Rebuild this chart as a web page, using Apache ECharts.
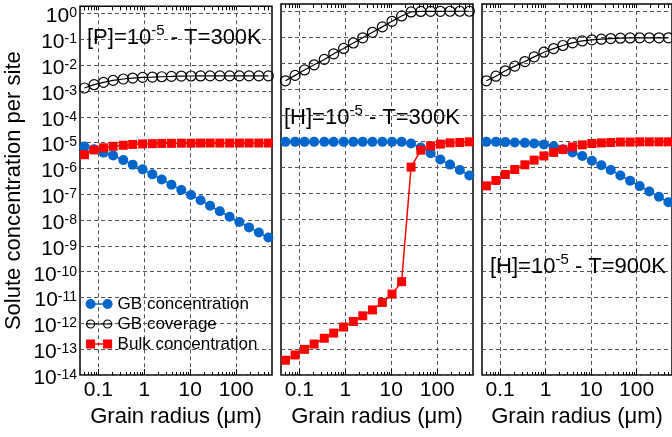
<!DOCTYPE html>
<html>
<head>
<meta charset="utf-8">
<script src="https://cdn.jsdelivr.net/npm/echarts@6/dist/echarts.min.js"></script>
<style>
html, body { margin: 0; padding: 0; background: #fff; }
#chart { width: 672px; height: 437px; }
</style>
</head>
<body>
<div id="chart"></div>
<script>
// grain radius (um), same for all three panels
var radius = [0.05, 0.081, 0.13, 0.21, 0.35, 0.56, 0.92, 1.5, 2.4, 3.9, 6.4, 10.4, 16.8, 27, 44, 72, 117, 190, 310, 500];

// panel 1 : [P]=1e-5, T=300K
var pGbConc = [7.0e-6, 5.5e-6, 4.1e-6, 3.2e-6, 2.1e-6, 1.4e-6, 9.2e-7, 5.9e-7, 3.7e-7, 2.35e-7, 1.47e-7, 9.4e-8, 5.9e-8, 3.6e-8, 2.2e-8, 1.34e-8, 8.4e-9, 5.2e-9, 3.3e-9, 2.1e-9];
var pGbCov = [1.3e-3, 1.75e-3, 2.15e-3, 2.57e-3, 2.9e-3, 3.16e-3, 3.36e-3, 3.45e-3, 3.56e-3, 3.66e-3, 3.78e-3, 3.8e-3, 3.82e-3, 3.83e-3, 3.84e-3, 3.85e-3, 3.85e-3, 3.85e-3, 3.85e-3, 3.85e-3];
var pBulk = [3.4e-6, 5.2e-6, 6.3e-6, 7.2e-6, 7.9e-6, 8.5e-6, 8.9e-6, 9.1e-6, 9.3e-6, 9.4e-6, 9.5e-6, 9.5e-6, 9.6e-6, 9.6e-6, 9.6e-6, 9.6e-6, 9.6e-6, 9.6e-6, 9.6e-6, 9.6e-6];

// panel 2 : [H]=1e-5, T=300K
var h3GbConc = [9.4e-6, 9.4e-6, 9.4e-6, 9.4e-6, 9.4e-6, 9.4e-6, 9.4e-6, 9.4e-6, 9.4e-6, 9.4e-6, 9.4e-6, 9.4e-6, 9.4e-6, 8.1e-6, 5.7e-6, 3.4e-6, 1.97e-6, 1.25e-6, 7.7e-7, 4.8e-7];
var h3GbCov = [2.1e-3, 3.4e-3, 5.5e-3, 8.7e-3, 1.4e-2, 2.3e-2, 3.7e-2, 6.0e-2, 9.5e-2, 0.155, 0.25, 0.41, 0.66, 0.94, 0.98, 0.99, 0.995, 1, 1, 1];
var h3Bulk = [3.7e-14, 5.9e-14, 9.7e-14, 1.56e-13, 2.6e-13, 4.1e-13, 7.0e-13, 1.15e-12, 1.9e-12, 3.2e-12, 6.2e-12, 1.3e-11, 3.9e-11, 1.0e-6, 4.5e-6, 6.6e-6, 7.7e-6, 8.6e-6, 8.9e-6, 9.4e-6];

// panel 3 : [H]=1e-5, T=900K
var h9GbConc = [9.4e-6, 9.4e-6, 9.2e-6, 8.9e-6, 8.6e-6, 8.1e-6, 7.4e-6, 6.4e-6, 4.9e-6, 3.7e-6, 2.7e-6, 1.75e-6, 1.19e-6, 7.7e-7, 4.8e-7, 3.0e-7, 1.86e-7, 1.16e-7, 7.2e-8, 4.5e-8];
var h9GbCov = [2.1e-3, 3.16e-3, 5.1e-3, 7.7e-3, 1.16e-2, 1.75e-2, 2.65e-2, 3.66e-2, 4.8e-2, 6.05e-2, 7.2e-2, 7.9e-2, 8.4e-2, 8.9e-2, 9.2e-2, 9.4e-2, 9.5e-2, 9.5e-2, 9.5e-2, 9.5e-2];
var h9Bulk = [1.9e-7, 3.07e-7, 5.2e-7, 8.1e-7, 1.23e-6, 1.86e-6, 2.7e-6, 3.7e-6, 4.8e-6, 6.05e-6, 7.2e-6, 8.1e-6, 8.6e-6, 8.9e-6, 9.2e-6, 9.2e-6, 9.4e-6, 9.4e-6, 9.4e-6, 9.4e-6];

var seriesNames = ['GB concentration', 'GB coverage', 'Bulk concentration'];
var panelTexts = [['[P]=10', '-5', ' - T=300K'], ['[H]=10', '-5', ' - T=300K'], ['[H]=10', '-5', ' - T=900K']];
var xTickLabels = [0.1, 1, 10, 100];
var yTickExps = [-14, -13, -12, -11, -10, -9, -8, -7, -6, -5, -4, -3, -2, -1, 0];

var panelData = [
    [pGbConc, pGbCov, pBulk],
    [h3GbConc, h3GbCov, h3Bulk],
    [h9GbConc, h9GbCov, h9Bulk]
];

var FONT = '"Liberation Sans", Arial, Helvetica, sans-serif';
var BLUE = '#0066cc', RED = '#ff0000';
var X_MIN = 0.04, X_MAX = 600, Y_MIN = 1e-14, Y_MAX = 1.9;
var lefts = [80, 281, 482];
var textPos = [[87, 20], [284, 100], [490, 249]];

// gnuplot-like legend keys: marker - line - marker
var keyDots = 'path://M0,5A5,5,0,1,1,10,5A5,5,0,1,1,0,5ZM17,5A5,5,0,1,1,27,5A5,5,0,1,1,17,5ZM9,4.2L18,4.2L18,5.8L9,5.8Z';
var keyRings = 'path://M1,5A4,4,0,1,1,9,5A4,4,0,1,1,1,5ZM18,5A4,4,0,1,1,26,5A4,4,0,1,1,18,5ZM0,5L27,5M0,0.5M27,9.5';
var keySquares = 'path://M0.5,0.5L9.5,0.5L9.5,9.5L0.5,9.5ZM17.5,0.5L26.5,0.5L26.5,9.5L17.5,9.5ZM9,4.2L18,4.2L18,5.8L9,5.8ZM0,0M27,10';

var yTicks = yTickExps.map(function (e) { return Math.pow(10, e); });
// labels split on two stacked axes so the end labels are never dropped as "overlapping"
var yLabelsEven = yTicks.filter(function (v, i) { return i % 2 === 0; });
var yLabelsOdd = yTicks.filter(function (v, i) { return i % 2 === 1; });

var xMinor = [];
[0.01, 0.1, 1, 10, 100].forEach(function (d) {
    for (var k = 2; k <= 9; k++) {
        var v = +(k * d).toPrecision(3);
        if (v > X_MIN && v < X_MAX) xMinor.push(v);
    }
});
var xAllTicks = xTickLabels.concat(xMinor);

function pairs(ys) {
    return radius.map(function (r, i) { return [r, ys[i]]; });
}

var dashed = { type: [4, 3], color: '#555', width: 1 };
var yLabelStyle = {
    margin: 3, showMinLabel: true, showMaxLabel: true,
    formatter: function (v) { return '{b|10}{s|' + Math.round(Math.log10(v)) + '}'; },
    rich: {
        b: { fontSize: 21, fontFamily: FONT, color: '#000', lineHeight: 14, padding: [6, 0, 0, 0] },
        s: { fontSize: 14, fontFamily: FONT, color: '#000', lineHeight: 8, verticalAlign: 'top' }
    }
};
var grid = [], xAxis = [], yAxis = [], series = [], graphic = [];

lefts.forEach(function (left, p) {
    grid.push({ left: left, top: 4, width: 192, height: 371, show: true, borderColor: '#000', borderWidth: 1.5 });

    // bottom axis: labels, major ticks, vertical grid
    var xIdx = xAxis.length;
    xAxis.push({
        type: 'log', gridIndex: p, min: X_MIN, max: X_MAX, position: 'bottom',
        axisLine: { show: false },
        axisTick: { inside: true, length: 6, customValues: xTickLabels, lineStyle: { color: '#000' } },
        axisLabel: { customValues: xTickLabels, color: '#000', fontSize: 21, fontFamily: FONT, margin: 5,
            formatter: function (v) { return String(v); } },
        splitLine: { show: true, lineStyle: dashed },
        name: 'Grain radius (\u03bcm)', nameLocation: 'middle', nameGap: 27,
        nameTextStyle: { color: '#000', fontSize: 22, fontFamily: FONT }
    });
    // bottom minor ticks
    xAxis.push({
        type: 'log', gridIndex: p, min: X_MIN, max: X_MAX, position: 'bottom',
        axisLine: { show: false },
        axisTick: { inside: true, length: 3, customValues: xMinor, lineStyle: { color: '#000' } },
        axisLabel: { show: false }, splitLine: { show: false }
    });
    // top ticks
    xAxis.push({
        type: 'log', gridIndex: p, min: X_MIN, max: X_MAX, position: 'top',
        axisLine: { show: false },
        axisTick: { inside: true, length: 4, customValues: xAllTicks, lineStyle: { color: '#000' } },
        axisLabel: { show: false }, splitLine: { show: false }
    });

    var yIdx = yAxis.length;
    yAxis.push({
        type: 'log', gridIndex: p, min: Y_MIN, max: Y_MAX, position: 'left',
        axisLine: { show: false },
        axisTick: { show: false, customValues: yTicks },
        axisLabel: p === 0 ? echarts.util.extend({ customValues: yLabelsEven }, yLabelStyle) : { show: false },
        splitLine: { show: true, lineStyle: dashed },
        name: p === 0 ? 'Solute concentration per site' : '',
        nameLocation: 'middle', nameGap: 55,
        nameTextStyle: { color: '#000', fontSize: 22, fontFamily: FONT }
    });
    if (p === 0) {
        yAxis.push({
            type: 'log', gridIndex: p, min: Y_MIN, max: Y_MAX, position: 'left',
            axisLine: { show: false },
            axisTick: { show: false },
            axisLabel: echarts.util.extend({ customValues: yLabelsOdd }, yLabelStyle),
            splitLine: { show: false }
        });
    }

    var d = panelData[p];
    series.push({
        name: seriesNames[0], type: 'line', xAxisIndex: xIdx, yAxisIndex: yIdx, data: pairs(d[0]),
        symbol: 'circle', symbolSize: 10, color: BLUE, lineStyle: { width: 1.5 }
    });
    series.push({
        name: seriesNames[1], type: 'line', xAxisIndex: xIdx, yAxisIndex: yIdx, data: pairs(d[1]),
        symbol: 'circle', symbolSize: 10, lineStyle: { width: 1.2, color: '#000' },
        itemStyle: { color: 'rgba(0,0,0,0)', borderColor: '#000', borderWidth: 1.2 }
    });
    series.push({
        name: seriesNames[2], type: 'line', xAxisIndex: xIdx, yAxisIndex: yIdx, data: pairs(d[2]),
        symbol: 'rect', symbolSize: 9, color: RED, lineStyle: { width: 1.5 }
    });

    var t = panelTexts[p];
    graphic.push({
        type: 'text', left: textPos[p][0], top: textPos[p][1], z: 10,
        style: {
            text: '{b|' + t[0] + '}{s|' + t[1] + '}{b|' + t[2] + '}',
            rich: {
                b: { fontSize: 22, fontFamily: FONT, fill: '#000', lineHeight: 22, padding: [7, 0, 0, 0] },
                s: { fontSize: 15, fontFamily: FONT, fill: '#000', lineHeight: 16, verticalAlign: 'top' }
            }
        }
    });
});

var chart = echarts.init(document.getElementById('chart'));
chart.setOption({
    animation: false,
    backgroundColor: '#fff',
    grid: grid,
    xAxis: xAxis,
    yAxis: yAxis,
    series: series,
    graphic: graphic,
    legend: {
        data: [
            { name: seriesNames[0], icon: keyDots, itemStyle: { color: BLUE, borderWidth: 0 } },
            { name: seriesNames[1], icon: keyRings, itemStyle: { color: 'rgba(0,0,0,0)', borderColor: '#000', borderWidth: 1.2 } },
            { name: seriesNames[2], icon: keySquares, itemStyle: { color: RED, borderWidth: 0 } }
        ],
        orient: 'vertical', left: 85, top: 295,
        itemWidth: 27, itemHeight: 10, itemGap: 2, padding: 0,
        textStyle: { fontSize: 17, fontFamily: FONT, color: '#000', lineHeight: 18 }
    }
});
</script>
</body>
</html>
